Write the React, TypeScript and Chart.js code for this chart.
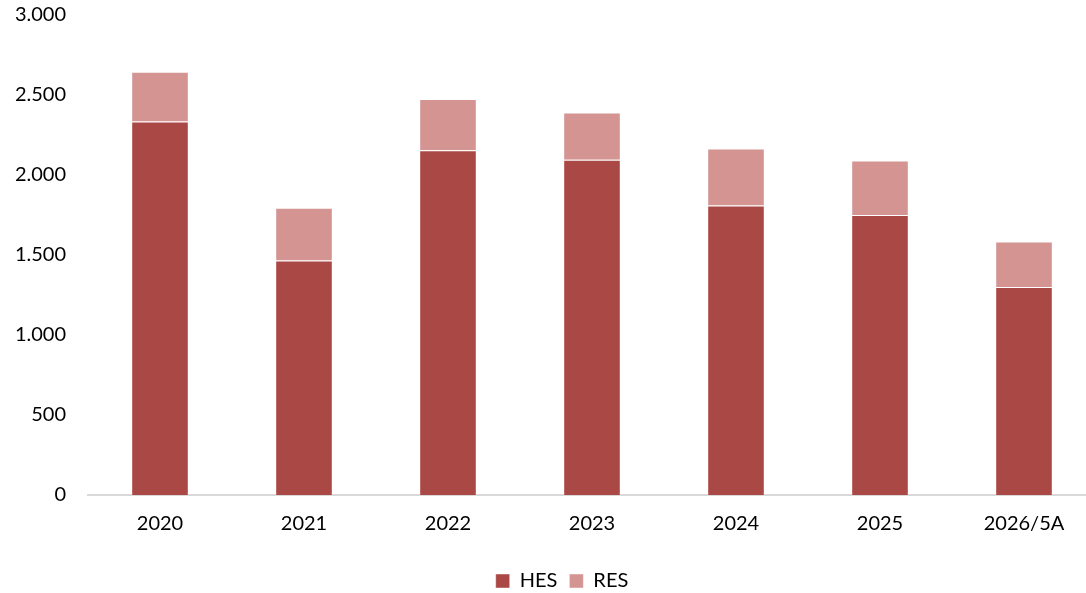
import React, { useEffect, useRef } from "react";
import { Chart, registerables } from "chart.js";

Chart.register(...registerables);

const categories = ["2020", "2021", "2022", "2023", "2024", "2025", "2026/5A"];
const hesValues = [2335, 1465, 2155, 2095, 1810, 1750, 1300];
const resValues = [310, 330, 320, 295, 355, 340, 285];
const yTicks = [0, 500, 1000, 1500, 2000, 2500, 3000];

const fmt = (v: number) =>
  v.toLocaleString("de-DE", { maximumFractionDigits: 0 });

const legendShift = {
  id: "legendShift",
  afterLayout(chart: any) {
    if (chart.legend) {
      chart.legend.left += 14;
      chart.legend.right += 14;
    }
  },
};

export default function App() {
  const ref = useRef<HTMLCanvasElement | null>(null);

  useEffect(() => {
    if (!ref.current) return;
    const FONT = "Lato, 'Open Sans', sans-serif";
    const chart = new Chart(ref.current, {
      type: "bar",
      data: {
        labels: categories,
        datasets: [
          {
            label: "HES",
            data: hesValues,
            backgroundColor: "#A94845",
            borderColor: "rgba(255,255,255,0.45)",
            borderWidth: 1,
            barPercentage: 0.4,
            categoryPercentage: 1,
          },
          {
            label: "RES",
            data: resValues,
            backgroundColor: "#D39492",
            borderColor: "rgba(255,255,255,0.45)",
            borderWidth: 1,
            barPercentage: 0.4,
            categoryPercentage: 1,
          },
        ],
      },
      plugins: [legendShift],
      options: {
        animation: false,
        responsive: false,
        maintainAspectRatio: false,
        layout: { padding: { top: 0, right: 4, bottom: 0, left: 0 } },
        plugins: {
          tooltip: { enabled: false },
          legend: {
            position: "bottom",
            labels: {
              boxWidth: 14,
              boxHeight: 14,
              padding: 12,
              color: "#000",
              font: { family: FONT, size: 20 },
            },
          },
        },
        scales: {
          x: {
            stacked: true,
            afterFit: (axis: any) => {
              axis.height = 64;
            },
            grid: { display: false, drawTicks: false },
            border: { display: true, color: "#D9D9D9", width: 2 },
            ticks: {
              color: "#000",
              font: { family: FONT, size: 20 },
              padding: 16.5,
            },
          },
          y: {
            stacked: true,
            min: 0,
            max: 3000,
            afterBuildTicks: (axis: any) => {
              axis.ticks = yTicks.map((v) => ({ value: v }));
            },
            afterFit: (axis: any) => {
              axis.width = 88;
            },
            grid: { display: false, drawTicks: true, tickLength: 19 },
            border: { display: false },
            ticks: {
              color: "#000",
              font: { family: FONT, size: 20 },
              padding: 3,
              callback: (v: any) => fmt(Number(v)),
            },
          },
        },
      },
    });
    return () => chart.destroy();
  }, []);

  return (
    <div
      style={{
        position: "fixed",
        left: 0,
        top: 0,
        width: 1086,
        height: 593,
        overflow: "hidden",
        background: "#fff",
      }}
    >
      <canvas ref={ref} width={1100} height={601} style={{ display: "block" }} />
    </div>
  );
}
